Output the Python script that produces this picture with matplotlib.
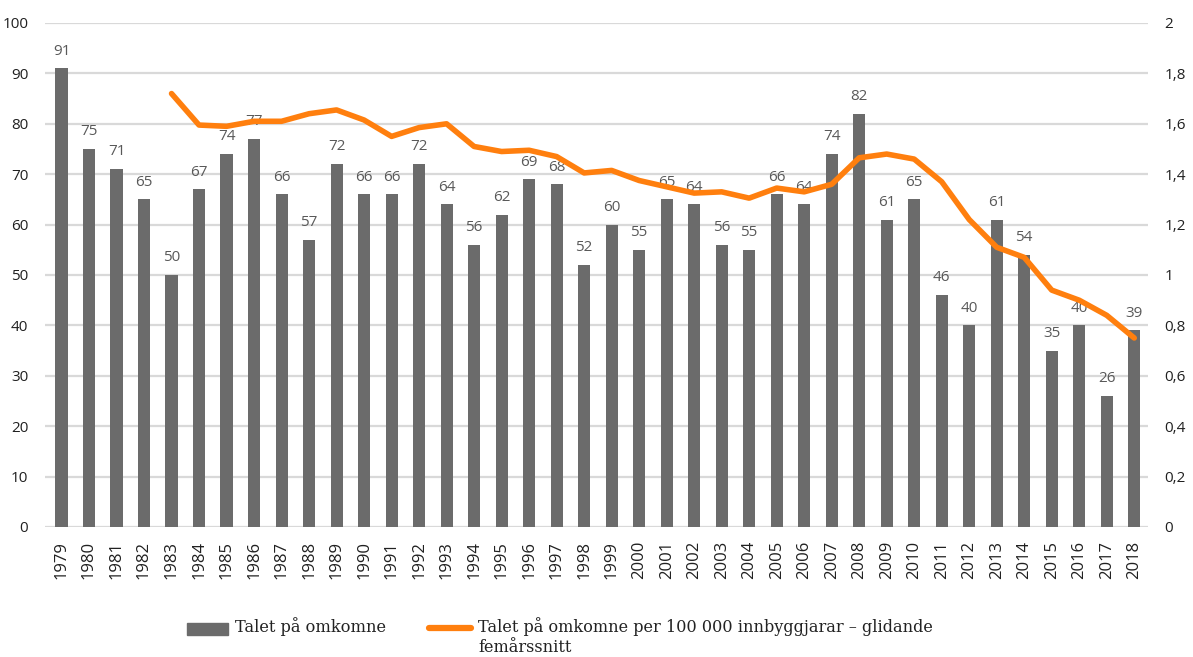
import numpy as np
import matplotlib.pyplot as plt
from matplotlib.patches import Rectangle
from matplotlib.lines import Line2D

# ── DATA ──────────────────────────────────────────────────────────────────────
years = list(range(1979, 2019))
deaths = [91, 75, 71, 65, 50, 67, 74, 77, 66, 57,
          72, 66, 66, 72, 64, 56, 62, 69, 68, 52,
          60, 55, 65, 64, 56, 55, 66, 64, 74, 82,
          61, 65, 46, 40, 61, 54, 35, 40, 26, 39]
# five-year moving average per 100 000, starts 1983
rate_years = list(range(1983, 2019))
rate = [1.72, 1.595, 1.59, 1.61, 1.61, 1.64, 1.655, 1.615, 1.55, 1.585,
        1.60, 1.51, 1.49, 1.495, 1.47, 1.405, 1.415, 1.375, 1.35, 1.325,
        1.33, 1.305, 1.345, 1.33, 1.36, 1.465, 1.48, 1.46, 1.37, 1.22,
        1.11, 1.07, 0.94, 0.90, 0.84, 0.75]

left_ticks = list(range(0, 101, 10))
right_ticks = [0, 0.2, 0.4, 0.6, 0.8, 1.0, 1.2, 1.4, 1.6, 1.8, 2.0]
right_labels = ["0", "0,2", "0,4", "0,6", "0,8", "1", "1,2", "1,4", "1,6", "1,8", "2"]

label_bar = "Talet på omkomne"
label_line = "Talet på omkomne per 100 000 innbyggjarar – glidande"
label_line2 = "femårssnitt"

BAR_C = "#6b6b6b"
LINE_C = "#ff7f0e"
GRID_C = "#d9d9d9"

# ── PLOT ──────────────────────────────────────────────────────────────────────
W, H = 1193, 657
fig = plt.figure(figsize=(W / 100, H / 100), dpi=100)
ax = fig.add_axes([45 / W, 1 - 527 / H, (1148 - 45) / W, (527 - 23) / H])

x = np.arange(len(years))
ax.bar(x, deaths, width=0.44, color=BAR_C, zorder=2)
for xi, v in zip(x, deaths):
    ax.annotate(str(v), (xi, v), xytext=(0, 7), textcoords="offset points",
                ha="center", va="bottom", fontsize=11, color="#595959",
                family="Open Sans", zorder=3)

ax.set_xlim(-0.6, 39.5)
ax.set_ylim(0, 100)
ax.set_yticks(left_ticks)
ax.set_yticklabels([str(t) for t in left_ticks], fontsize=11, color="#202020",
                   family="Open Sans")
ax.set_xticks(x)
ax.set_xticklabels([str(y) for y in years], rotation=90, fontsize=12,
                   color="#202020", family="Open Sans")
ax.tick_params(axis="both", length=0)
ax.tick_params(axis="y", pad=12)
ax.tick_params(axis="x", pad=10)
ax.grid(axis="y", color=GRID_C, linewidth=1.6, zorder=0)
ax.set_axisbelow(True)
for s in ax.spines.values():
    s.set_visible(False)

ax2 = ax.twinx()
rx = [years.index(y) for y in rate_years]
ax2.plot(rx, rate, color=LINE_C, linewidth=4, solid_joinstyle="round",
         solid_capstyle="round", zorder=4)
ax2.set_ylim(0, 2)
ax2.set_yticks(right_ticks)
ax2.set_yticklabels(right_labels, fontsize=11, color="#202020", family="Open Sans")
ax2.tick_params(axis="y", length=0, pad=12)
for s in ax2.spines.values():
    s.set_visible(False)

# ── LEGEND (manual, serif like the source) ────────────────────────────────────
fig.patches.append(Rectangle((187 / W, 1 - 635 / H), 41 / W, 12 / H,
                             transform=fig.transFigure, color=BAR_C))
fig.text(235 / W, 1 - 627 / H, label_bar, fontsize=11.7, family="DejaVu Serif",
         va="center", ha="left", color="#222222")
fig.lines.append(Line2D([429 / W, 471 / W], [1 - 628 / H, 1 - 628 / H],
                        transform=fig.transFigure, color=LINE_C, linewidth=4.5,
                        solid_capstyle="round"))
fig.text(478 / W, 1 - 627 / H, label_line, fontsize=11.6, family="DejaVu Serif",
         va="center", ha="left", color="#222222")
fig.text(478 / W, 1 - 648 / H, label_line2, fontsize=11.6, family="DejaVu Serif",
         va="center", ha="left", color="#222222")

fig.savefig("out.png", dpi=100)
